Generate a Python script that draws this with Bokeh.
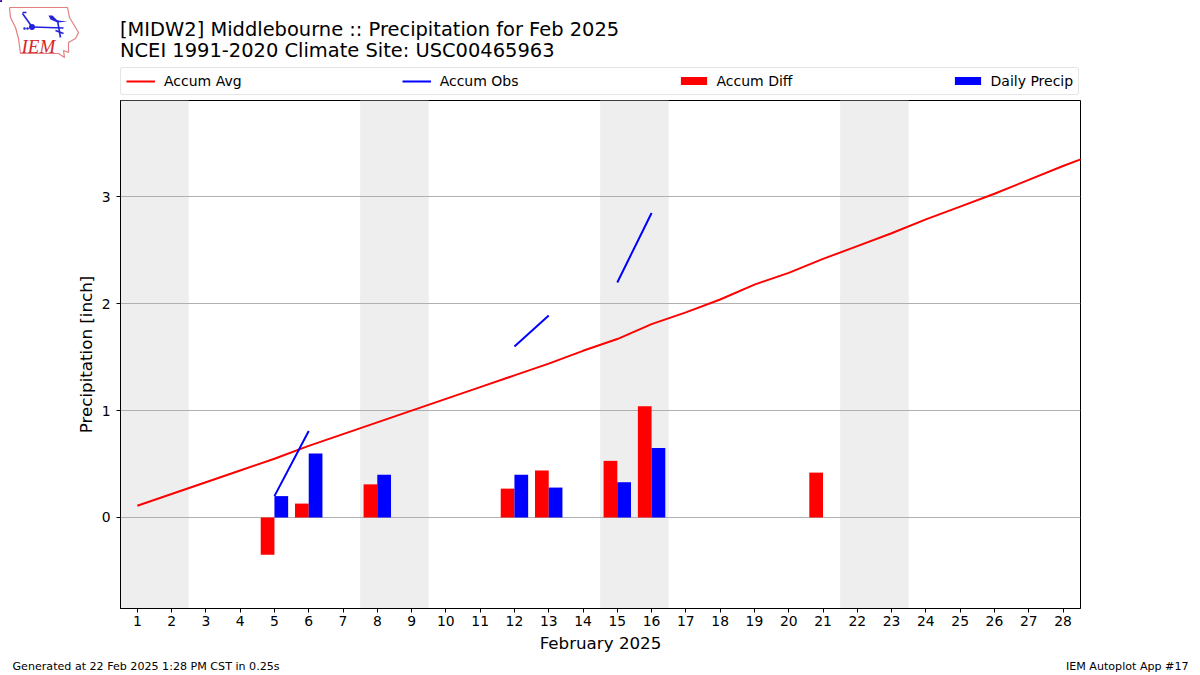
from bokeh.plotting import figure
from bokeh.models import Label, Legend, LegendItem, Range1d, FixedTicker
from bokeh.embed import file_html
from bokeh.resources import INLINE

FONT = "DejaVu Sans"
nan = float("nan")

# ---- data ----
days_avg = list(range(1, 30))
accum_avg = [0.11, 0.22, 0.33, 0.44, 0.55, 0.67, 0.78, 0.89, 1.00, 1.11, 1.22, 1.33, 1.44, 1.56,
             1.67, 1.81, 1.92, 2.04, 2.18, 2.29, 2.42, 2.54, 2.66, 2.79, 2.91, 3.03, 3.16, 3.29, 3.41]
obs_days = [5, 6, 7, 12, 13, 14, 15, 16]
accum_obs = [0.20, 0.81, nan, 1.60, 1.89, nan, 2.20, 2.85]
diff_days = [5, 6, 8, 12, 13, 15, 16, 21]
accum_diff = [-0.35, 0.13, 0.31, 0.27, 0.44, 0.53, 1.04, 0.42]
precip_days = [5, 6, 8, 12, 13, 15, 16]
daily_precip = [0.20, 0.60, 0.40, 0.40, 0.28, 0.33, 0.65]
weekend_start = [0.5, 7.5, 14.5, 21.5]
weekend_end = [2.5, 9.5, 16.5, 23.5]
x_ticks = list(range(1, 29))
y_ticks = [0, 1, 2, 3]
title_1 = "[MIDW2] Middlebourne :: Precipitation for Feb 2025"
title_2 = "NCEI 1991-2020 Climate Site: USC00465963"
footer_l = "Generated at 22 Feb 2025 1:28 PM CST in 0.25s"
footer_r = "IEM Autoplot App #17"

# logo drawing (page pixels of the header)
logo_x = [9, 67, 69, 78, 75, 68, 68, 63, 64, 58, 20, 18, 15, 10, 9]
logo_y = [7, 7, 17, 32, 38, 42, 52, 50, 57, 53, 53, 38, 27, 17, 7]
logo_blue = [([22, 32], [13, 27]), ([32, 63], [26.5, 27.5]), ([22, 26], [12, 12]),
             ([57, 60], [20, 37]), ([55, 63], [30, 33])]
logo_flag_x = [48, 52, 57, 67, 57, 50]
logo_flag_y = [15, 15, 20, 21, 22, 19]

W = 1192
YMIN, YMAX = -0.852, 3.903
XMIN, XMAX = 0.51, 28.51

# ---- header -----
head = figure(width=W, height=99, output_backend="svg", toolbar_location=None,
              x_range=Range1d(0, W), y_range=Range1d(99, 0), x_axis_type=None, y_axis_type=None,
              min_border=0, min_border_left=0, min_border_right=0, min_border_top=0, min_border_bottom=0)
head.outline_line_color = None
head.grid.visible = False

def text(fig, x, y, s, size, font=FONT, color="black", **kw):
    fig.add_layout(Label(x=x, y=y, x_units="canvas", y_units="canvas", text=s, text_font=font,
                         text_font_size=size, text_color=color, text_baseline="alphabetic", **kw))

text(head, 119.5, 29, title_1, "19.45px")
text(head, 119.5, 50, title_2, "19.45px")
head.line(logo_x, logo_y, line_color="#e08080", line_width=1.2)
for xs, ys in logo_blue:
    head.line(xs, ys, line_color="#2222dd", line_width=1.6)
head.patch(logo_flag_x, logo_flag_y, fill_color="#2222dd", line_color=None)
head.scatter([31.5], [26.5], size=6, fill_color="#2222dd", line_color=None)
head.scatter([24, 27], [28, 28], size=2.5, fill_color="#2222dd", line_color=None)
text(head, 21, 46, "IEM", "19px", font="Liberation Serif", color="#d62728", text_font_style="italic")

# legend keys: off-canvas stand-ins so the legend can live in the header
off = [-50, -40]
l_avg = head.line(off, off, line_color="#ff0000", line_width=2)
l_obs = head.line(off, off, line_color="#0000ff", line_width=2)
l_diff = head.vbar(x=off, top=off, bottom=off, width=1, fill_color="#ff0000", line_color="#ff0000",
                   line_width=3, line_join="miter")
l_prec = head.vbar(x=off, top=off, bottom=off, width=1, fill_color="#0000ff", line_color="#0000ff",
                   line_width=3, line_join="miter")
leg_kw = dict(border_line_color="#cccccc")
if "border_radius" in Legend.properties():
    leg_kw["border_radius"] = 3
leg = Legend(items=[LegendItem(label="Accum Avg", renderers=[l_avg]),
                    LegendItem(label="Accum Obs", renderers=[l_obs]),
                    LegendItem(label="Accum Diff", renderers=[l_diff]),
                    LegendItem(label="Daily Precip", renderers=[l_prec])],
             orientation="horizontal", location=(120, 4), spacing=160,
             glyph_width=29, glyph_height=8, label_standoff=9, padding=5, margin=0,
             label_text_font=FONT, label_text_font_size="14px", label_text_color="black",
             border_line_width=1, background_fill_alpha=1, label_height=14, **leg_kw)
head.add_layout(leg, "center")

# ---- main -----
p = figure(width=W, height=556, output_backend="svg", toolbar_location=None,
           x_range=Range1d(XMIN, XMAX), y_range=Range1d(YMIN, YMAX),
           min_border_left=120, min_border_right=W - 1080, min_border_top=1,
           min_border_bottom=47, x_axis_label="February 2025",
           y_axis_label="Precipitation [inch]")
p.outline_line_color = "black"
p.outline_line_width = 1
p.xgrid.visible = False
p.ygrid.grid_line_color = "#b0b0b0"
p.ygrid.grid_line_width = 1
p.xaxis.ticker = FixedTicker(ticks=x_ticks)
p.yaxis.ticker = FixedTicker(ticks=y_ticks)
for ax in (p.xaxis[0], p.yaxis[0]):
    ax.minor_tick_line_color = None
    ax.major_tick_in = 0
    ax.major_tick_out = 4
    ax.major_label_text_font = FONT
    ax.major_label_text_font_size = "13.9px"
    ax.major_label_text_color = "black"
    ax.axis_label_text_font = FONT
    ax.axis_label_text_font_style = "normal"
    ax.axis_label_text_font_size = "16.7px"
    ax.axis_label_text_color = "black"
    ax.axis_line_color = "black"
    ax.major_tick_line_color = "black"
p.xaxis.major_label_standoff = 3
p.yaxis.major_label_standoff = 6
p.xaxis.axis_label_standoff = 4
p.yaxis.axis_label_standoff = 3

p.quad(left=weekend_start, right=weekend_end, bottom=YMIN, top=YMAX,
       fill_color="#eeeeee", line_color=None, level="image")
p.line(days_avg, accum_avg, line_color="#ff0000", line_width=2)
p.line(obs_days, accum_obs, line_color="#0000ff", line_width=2)
p.vbar(x=[d - 0.2 for d in diff_days], top=accum_diff, bottom=0, width=0.4,
       fill_color="#ff0000", line_color=None)
p.vbar(x=[d + 0.2 for d in precip_days], top=daily_precip, bottom=0, width=0.4,
       fill_color="#0000ff", line_color=None)

# ---- footer -----
foot = figure(width=W, height=17, output_backend="svg", toolbar_location=None,
              x_range=Range1d(0, W), y_range=Range1d(17, 0), x_axis_type=None, y_axis_type=None,
              min_border=0, min_border_left=0, min_border_right=0, min_border_top=0, min_border_bottom=0)
foot.outline_line_color = None
foot.grid.visible = False
text(foot, 12, 11, footer_l, "11.1px")
text(foot, 1188, 11, footer_r, "11.1px", text_align="right")

open("out.html", "w").write(file_html([head, p, foot], INLINE))
